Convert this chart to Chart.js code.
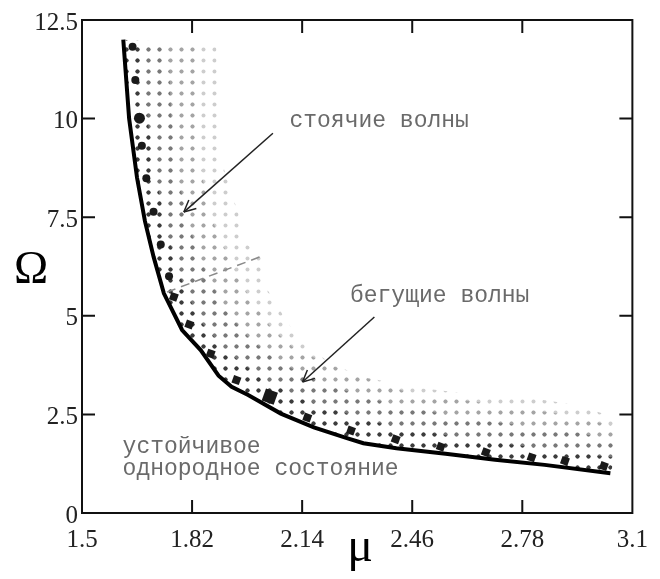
<!DOCTYPE html>
<html lang="ru">
<head>
<meta charset="UTF-8">
<title>Ω(μ)</title>
<script src="https://cdn.jsdelivr.net/npm/chart.js@4"></script>
<style>
  body { margin: 0; background: #fff; }
  #chart { display: block; }
</style>
</head>
<body>
<canvas id="chart" width="660" height="579"></canvas>
<script>
// оси
const xTicks = [1.5, 1.82, 2.14, 2.46, 2.78, 3.1];
const xTickLabels = ["1.5", "1.82", "2.14", "2.46", "2.78", "3.1"];
const yTicks = [0, 2.5, 5, 7.5, 10, 12.5];

// граница устойчивого состояния (жирная кривая)
const curveMu = [1.62, 1.637, 1.66, 1.683, 1.708, 1.738, 1.791, 1.845, 1.897, 1.935, 1.983, 2.078, 2.174, 2.27, 2.318, 2.414, 2.557, 2.701, 2.845, 3.036];
const curveOm = [12.0, 10.0, 8.5, 7.4, 6.5, 5.57, 4.64, 4.13, 3.48, 3.2, 2.99, 2.52, 2.17, 1.9, 1.77, 1.64, 1.5, 1.35, 1.22, 1.01];

// стоячие волны (кружки)
const circMu = [1.647, 1.655, 1.667, 1.674, 1.687, 1.708, 1.729, 1.753];
const circOm = [11.82, 10.98, 10.01, 9.31, 8.49, 7.64, 6.81, 6.0];

// бегущие волны (квадраты)
const sqMu = [1.767, 1.812, 1.874, 1.949, 2.046, 2.155, 2.282, 2.412, 2.543, 2.674, 2.807, 2.904, 3.017];
const sqOm = [5.48, 4.78, 4.04, 3.37, 2.95, 2.42, 2.09, 1.87, 1.68, 1.54, 1.41, 1.32, 1.19];

// внешняя граница точечной области и линии перехода тона
const outerMu = [1.89, 1.895, 1.91, 1.935, 1.954, 1.974, 2.02, 2.04, 2.098, 2.147, 2.221, 2.319, 2.463, 2.606, 2.796, 2.94, 3.046];
const outerOm = [11.9, 10.0, 8.8, 8.1, 7.61, 6.85, 6.49, 5.65, 4.82, 4.31, 3.8, 3.45, 3.19, 3.04, 2.92, 2.74, 2.43];
const tone3Mu = [1.83, 1.835, 1.85, 1.88, 1.93, 1.99, 2.05, 2.12, 2.25, 2.45, 2.7, 2.9, 3.05];
const tone3Om = [11.9, 10, 8.5, 7.4, 6.4, 5.4, 4.7, 4.15, 3.65, 3.05, 2.75, 2.5, 2.2];
const tone2Mu = [1.75, 1.76, 1.78, 1.81, 1.86, 1.92, 1.99, 2.07, 2.19, 2.4, 2.65, 2.9, 3.05];
const tone2Om = [11.9, 10, 8.5, 7.3, 6.1, 5.1, 4.4, 3.85, 3.3, 2.75, 2.35, 2.1, 1.85];
const tone1Mu = [1.68, 1.69, 1.715, 1.745, 1.785, 1.84, 1.92, 2.01, 2.13, 2.35, 2.6, 2.85, 3.05];
const tone1Om = [11.9, 10, 8.5, 7.2, 6.0, 4.9, 4.1, 3.5, 2.9, 2.3, 1.9, 1.62, 1.4];

// граница между стоячими и бегущими волнами (штрих)
const dashMu = [1.747, 2.031];
const dashOm = [5.6, 6.54];

// стрелки: [откуда, куда]
const arrowStanding = { mu: [2.055, 1.796], om: [9.63, 7.63] };
const arrowRunning = { mu: [2.35, 2.141], om: [4.97, 3.32] };

const notes = [
  { text: "стоячие волны", mu: 2.103, om: 9.79 },
  { text: "бегущие волны", mu: 2.279, om: 5.35 },
  { text: "устойчивое", mu: 1.618, om: 1.52 },
  { text: "однородное состояние", mu: 1.618, om: 0.96 },
];

const toPts = (mu, om) => mu.map((x, i) => ({ x, y: om[i] }));

// замкнутый контур: от кривой до линии тона
const band = (mu, om) => toPts(curveMu, curveOm).concat(toPts(mu, om).reverse());

const canvas = document.getElementById("chart");
const ctx = canvas.getContext("2d");

const dotPattern = (color) => {
  const c = document.createElement("canvas");
  c.width = c.height = 11;
  const g = c.getContext("2d");
  g.fillStyle = color;
  g.beginPath();
  g.arc(5.5, 5.5, 2, 0, Math.PI * 2);
  g.fill();
  return ctx.createPattern(c, "repeat");
};

const bandSet = (pts, color, order) => ({
  data: pts,
  fill: "shape",
  backgroundColor: dotPattern(color),
  borderWidth: 0,
  borderColor: "transparent",
  pointRadius: 0,
  order,
});

const frame = {
  id: "frame",
  afterDatasetsDraw(chart) {
    const { ctx, chartArea: a, scales: { x, y } } = chart;
    ctx.save();
    ctx.strokeStyle = "#111";
    ctx.lineWidth = 2;
    ctx.strokeRect(a.left, a.top, a.right - a.left, a.bottom - a.top);
    ctx.beginPath();
    xTicks.slice(1, -1).forEach((v) => {
      const px = x.getPixelForValue(v);
      ctx.moveTo(px, a.bottom); ctx.lineTo(px, a.bottom - 13);
      ctx.moveTo(px, a.top); ctx.lineTo(px, a.top + 13);
    });
    yTicks.slice(1, -1).forEach((v) => {
      const py = y.getPixelForValue(v);
      ctx.moveTo(a.left, py); ctx.lineTo(a.left + 13, py);
      ctx.moveTo(a.right, py); ctx.lineTo(a.right - 13, py);
    });
    ctx.stroke();

    // наконечники стрелок
    ctx.strokeStyle = "#222";
    ctx.lineWidth = 1.5;
    [arrowStanding, arrowRunning].forEach((ar) => {
      const x0 = x.getPixelForValue(ar.mu[0]), y0 = y.getPixelForValue(ar.om[0]);
      const x1 = x.getPixelForValue(ar.mu[1]), y1 = y.getPixelForValue(ar.om[1]);
      const ang = Math.atan2(y0 - y1, x0 - x1);
      ctx.beginPath();
      [-0.45, 0.45].forEach((d) => {
        ctx.moveTo(x1, y1);
        ctx.lineTo(x1 + 13 * Math.cos(ang + d), y1 + 13 * Math.sin(ang + d));
      });
      ctx.stroke();
    });

    // подписи
    ctx.fillStyle = "#6a6a6a";
    ctx.font = '23px "Liberation Mono", monospace';
    ctx.textAlign = "left";
    ctx.textBaseline = "alphabetic";
    notes.forEach((n) => {
      ctx.fillText(n.text, x.getPixelForValue(n.mu), y.getPixelForValue(n.om));
    });

    ctx.fillStyle = "#000";
    ctx.textAlign = "center";
    ctx.textBaseline = "middle";
    ctx.font = '46px "Liberation Serif", serif';
    ctx.fillText("Ω", 31, 271);
    ctx.font = '48px "Liberation Serif", serif';
    ctx.fillText("μ", 360, 548);
    ctx.restore();
  },
};

new Chart(canvas, {
  type: "line",
  data: {
    datasets: [
      {
        data: toPts(circMu, circOm),
        showLine: false,
        pointStyle: "circle",
        pointRadius: [4, 4, 5.5, 4, 4, 4, 4, 4],
        pointBackgroundColor: "#1a1a1a",
        pointBorderWidth: 0,
        order: 1,
      },
      {
        data: toPts(sqMu, sqOm),
        showLine: false,
        pointStyle: "rect",
        pointRadius: [5.5, 5.5, 5.5, 5.5, 9, 5.5, 5.5, 5.5, 5.5, 5.5, 5.5, 5.5, 5.5],
        pointRotation: 20,
        pointBackgroundColor: "#1a1a1a",
        pointBorderWidth: 0,
        order: 2,
      },
      {
        data: toPts(curveMu, curveOm),
        borderColor: "#000",
        borderWidth: 4,
        pointRadius: 0,
        tension: 0,
        order: 3,
      },
      {
        data: toPts(arrowStanding.mu, arrowStanding.om),
        borderColor: "#222",
        borderWidth: 1.5,
        pointRadius: 0,
        order: 4,
      },
      {
        data: toPts(arrowRunning.mu, arrowRunning.om),
        borderColor: "#222",
        borderWidth: 1.5,
        pointRadius: 0,
        order: 4,
      },
      {
        data: toPts(dashMu, dashOm),
        borderColor: "#8a8a8a",
        borderWidth: 1.5,
        borderDash: [9, 6],
        pointRadius: 0,
        order: 5,
      },
      bandSet(band(tone1Mu, tone1Om), "#3c3c3c", 7),
      bandSet(band(tone2Mu, tone2Om), "#787878", 8),
      bandSet(band(tone3Mu, tone3Om), "#a4a4a4", 9),
      bandSet(band(outerMu, outerOm), "#cdcdcd", 10),
    ],
  },
  options: {
    responsive: false,
    animation: false,
    layout: { padding: { top: 20, right: 21 } },
    plugins: { legend: { display: false }, tooltip: { enabled: false } },
    scales: {
      x: {
        type: "linear",
        min: 1.5,
        max: 3.1,
        afterBuildTicks: (s) => { s.ticks = xTicks.map((value) => ({ value })); },
        afterFit: (s) => { s.height = 66; },
        grid: { display: false, drawTicks: false },
        border: { display: false },
        ticks: {
          padding: 12,
          color: "#222",
          font: { family: '"Liberation Serif", serif', size: 25 },
          callback: (v, i) => xTickLabels[i],
        },
      },
      y: {
        min: 0,
        max: 12.5,
        afterBuildTicks: (s) => { s.ticks = yTicks.map((value) => ({ value })); },
        afterFit: (s) => { s.width = 82; },
        grid: { display: false, drawTicks: false },
        border: { display: false },
        ticks: {
          padding: 4,
          labelOffset: 3,
          color: "#222",
          font: { family: '"Liberation Serif", serif', size: 25 },
          callback: (v) => String(v),
        },
      },
    },
  },
  plugins: [frame],
});
</script>
</body>
</html>
